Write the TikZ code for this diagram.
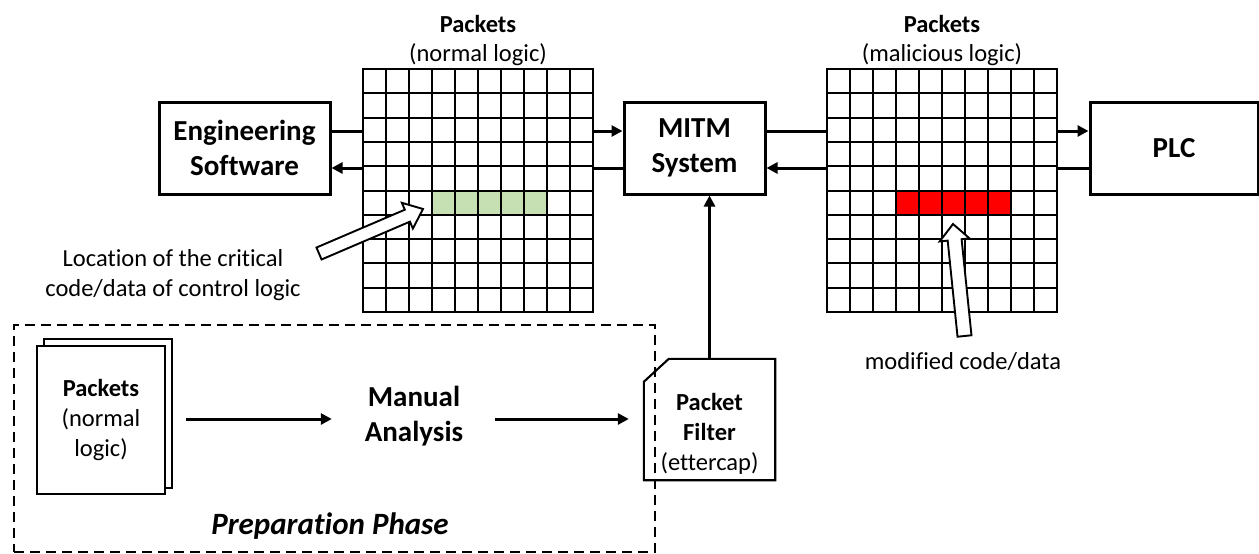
\documentclass[tikz,border=0pt]{standalone}
\usepackage{fontspec}
\setmainfont{Carlito}[Ligatures=NoCommon]
\usetikzlibrary{arrows.meta,calc}
\begin{document}
\begin{tikzpicture}[x=1pt,y=-1pt,
  box/.style={draw, line width=3pt, inner sep=0pt, align=center,
              font=\bfseries\fontsize{29}{35}\selectfont},
  link/.style={line width=3pt},
  arr/.style={link, -{Triangle[length=11pt,width=11pt]}},
  lbl/.style={inner sep=0pt, align=center, font=\fontsize{24.5}{30}\selectfont},
  blbl/.style={lbl, font=\bfseries\fontsize{24.5}{30}\selectfont},
  packetgrid/.style={minimum width=230pt, minimum height=243pt, inner sep=0pt, outer sep=0pt},
  gridline/.style={line width=2pt, line cap=rect},
  hollow/.style={draw, line width=1.9pt, fill=white, line join=miter},
  doc/.style={draw, line width=2pt, fill=white},
  phase/.style={draw, line width=2.6pt, dash pattern=on 10pt off 6pt}
]
\useasboundingbox (0,0) rectangle (1259,554);

% rows used by the two-way links
\coordinate (upper) at (0,131);
\coordinate (lower) at (0,168);
\coordinate (flow) at (0,419);

% main boxes
\node[box, minimum width=171pt, minimum height=92pt] (eng) at (244.5,148) {Engineering\\Software};
\node[box, minimum width=141pt, minimum height=92pt] (mitm) at (694.5,148) {MITM\\System};
\node[box, minimum width=168pt, minimum height=92pt] (plc) at (1174,148) {PLC};

% packet grids, 10 x 10 cells
\node[packetgrid] (gridL) at (478,190.5) {};
\node[packetgrid] (gridR) at (942,190.5) {};
\fill[fill={rgb,255:red,198;green,224;blue,180}]
  ($(gridL.north west)+(3*23,122)$) rectangle ++(5*23,24);
\fill[red] ($(gridR.north west)+(3*23,122)$) rectangle ++(5*23,24);
\foreach \g in {gridL,gridR}{
  \foreach \i in {0,...,10}
    \draw[gridline] ($(\g.north west)+(\i*23,0)$) -- ($(\g.south west)+(\i*23,0)$);
  \foreach \j in {0,...,10}{
    \pgfmathsetmacro\rowy{round(\j*24.3)}
    \draw[gridline] ($(\g.north west)+(0,\rowy)$) -- ($(\g.north east)+(0,\rowy)$);
  }
}

% grid titles
\node[blbl] (titleL) at (478,24) {Packets};
\node[lbl] (subL) at (478,55) {(normal logic)};
\node[blbl] (titleR) at (942,24) {Packets};
\node[lbl] (subR) at (942,55) {(malicious logic)};

% two-way links through the grids
\draw[link] (eng.east |- upper) -- (gridL.west |- upper);
\draw[arr] (gridL.east |- upper) -- (mitm.west |- upper);
\draw[arr] (gridL.west |- lower) -- (eng.east |- lower);
\draw[link] (mitm.west |- lower) -- (gridL.east |- lower);
\draw[link] (mitm.east |- upper) -- (gridR.west |- upper);
\draw[arr] (gridR.east |- upper) -- (plc.west |- upper);
\draw[arr] (gridR.west |- lower) -- (mitm.east |- lower);
\draw[link] (plc.west |- lower) -- (gridR.east |- lower);

% hollow pointer to the critical code
\coordinate (la-tail) at (319,253.5);
\coordinate (la-tip) at (423,209);
\coordinate (la-neck) at ($(la-tip)!17pt!(la-tail)$);
\draw[hollow] ($(la-tail)!6.5pt!90:(la-tip)$) -- ($(la-neck)!6.5pt!90:(la-tip)$)
  -- ($(la-neck)!14pt!90:(la-tip)$) -- (la-tip) -- ($(la-neck)!14pt!-90:(la-tip)$)
  -- ($(la-neck)!6.5pt!-90:(la-tip)$) -- ($(la-tail)!6.5pt!-90:(la-tip)$) -- cycle;
\node[lbl] (critical) at (173,275) {Location of the critical\\code/data of control logic};

% hollow pointer to the modified code
\coordinate (ra-tail) at (964.5,336);
\coordinate (ra-tip) at (953,224);
\coordinate (ra-neck) at ($(ra-tip)!16pt!(ra-tail)$);
\draw[hollow] ($(ra-tail)!7pt!90:(ra-tip)$) -- ($(ra-neck)!7pt!90:(ra-tip)$)
  -- ($(ra-neck)!15pt!90:(ra-tip)$) -- (ra-tip) -- ($(ra-neck)!15pt!-90:(ra-tip)$)
  -- ($(ra-neck)!7pt!-90:(ra-tip)$) -- ($(ra-tail)!7pt!-90:(ra-tip)$) -- cycle;
\node[lbl] (modified) at (963,362) {modified code/data};

% preparation phase
\node[phase, minimum width=641pt, minimum height=227pt, inner sep=0pt] (prep) at (334.5,438.5) {};
\node[inner sep=0pt, font=\bfseries\itshape\fontsize{31}{36}\selectfont] (prepname) at (330,526) {Preparation Phase};

\draw[doc] (44,339) rectangle (172,488);
\node[doc, minimum width=128pt, minimum height=148pt, inner sep=0pt, align=center,
      font=\fontsize{24.5}{30}\selectfont] (docs) at (101,420) {\textbf{Packets}\\(normal\\logic)};

\node[inner sep=0pt, minimum width=150pt, align=center,
      font=\bfseries\fontsize{29}{35}\selectfont] (manual) at (414,416) {Manual\\Analysis};

\node[minimum width=131pt, minimum height=121pt, inner sep=0pt] (filter) at (709.5,419.5) {};
\draw[line width=2.1pt, line join=miter] ($(filter.north west)+(0,23)$) -- ($(filter.north west)+(25,0)$)
  -- (filter.north east) -- (filter.south east) -- (filter.south west) -- cycle;
\node[lbl] (filtertext) at ($(filter.center)+(0,14)$) {\textbf{Packet}\\\textbf{Filter}\\(ettercap)};

\draw[arr, shorten <=20pt, shorten >=7pt] (docs.east |- flow) -- (manual.west |- flow);
\draw[arr, shorten <=6pt, shorten >=15pt] (manual.east |- flow) -- (filter.west |- flow);
\draw[arr] (filter.north) -- (filter.north |- mitm.south);
\end{tikzpicture}
\end{document}
